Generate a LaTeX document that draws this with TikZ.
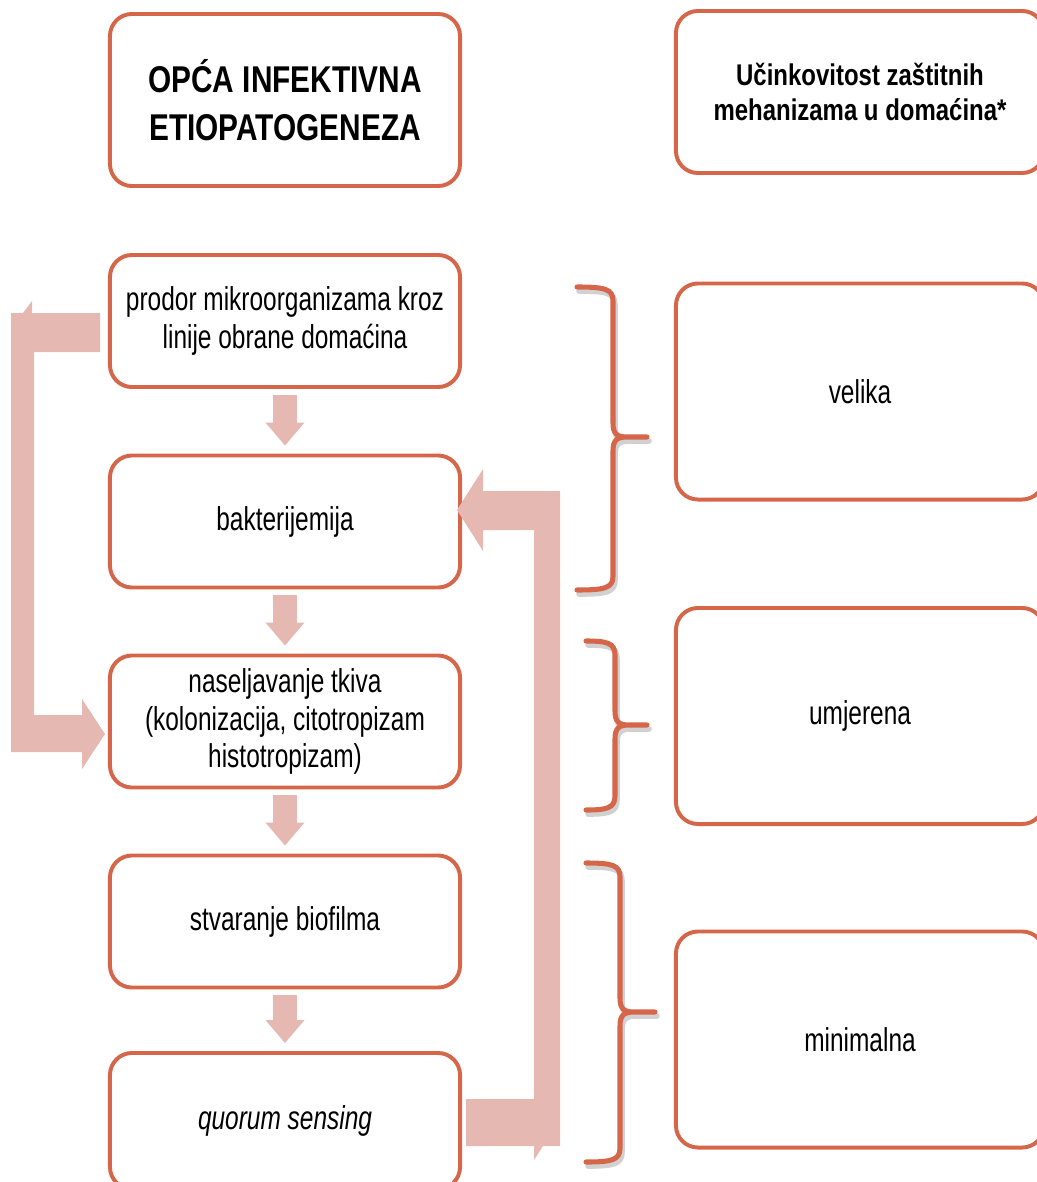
\documentclass[tikz,border=0pt]{standalone}
\usepackage{fontspec}
\setmainfont{Liberation Sans}[FakeStretch=0.74]
\newfontfamily\headfont{Liberation Sans}[FakeStretch=0.8]
\usetikzlibrary{arrows.meta}
\definecolor{boxorange}{RGB}{214,102,74}
\definecolor{arrowpink}{RGB}{229,184,177}

\begin{document}
\begin{tikzpicture}[x=0.025cm, y=-0.025cm,
    box/.style={draw=boxorange, line width=2.8pt, rounded corners=0.55cm, fill=white, align=center,
        minimum width=8.75cm, minimum height=3.3cm, font=\fontsize{23.5}{26.5}\selectfont},
    rbox/.style={box, minimum width=9.2cm, minimum height=5.4cm},
    flow/.style={draw=arrowpink, line width=0.6cm, -{Triangle[width=0.975cm, length=0.575cm, line width=0pt]},
        shorten <=0.15cm, shorten >=0.2cm},
    backarrow/.style={fill=arrowpink},
    curly/.style={draw=boxorange, line width=3.6pt, line cap=round, line join=round},
    curlyshadow/.style={draw=black!40, opacity=0.45, line width=4pt, line cap=round, line join=round}]
    \useasboundingbox (0,0) rectangle (1037,1182);

    \node [box, minimum height=4.3cm, font=\headfont\fontsize{26.5}{34}\selectfont\bfseries] (head) at (285,100) {OPĆA INFEKTIVNA\\ETIOPATOGENEZA};
    \node [box] (b1) at (285,321) {prodor mikroorganizama kroz\\linije obrane domaćina};
    \node [box] (b2) at (285,521.5) {bakterijemija};
    \node [box] (b3) at (285,721.5) {naseljavanje tkiva\\(kolonizacija, citotropizam\\histotropizam)};
    \node [box] (b4) at (285,921.5) {stvaranje biofilma};
    \node [box, minimum height=3.4cm] (b5) at (285,1121) {\itshape quorum sensing};

    \node [box, minimum width=9.2cm, minimum height=4.05cm, font=\headfont\fontsize{21.3}{25}\selectfont\bfseries] (rhead) at (860,92) {Učinkovitost zaštitnih\\mehanizama u domaćina*};
    \node [rbox] (high) at (860,391.5) {velika};
    \node [rbox] (mid) at (860,716) {umjerena};
    \node [rbox] (low) at (860,1039.5) {minimalna};

    \draw [flow] (b1) -- (b2);
    \draw [flow] (b2) -- (b3);
    \draw [flow] (b3) -- (b4);
    \draw [flow] (b4) -- (b5);

    \fill [backarrow] (100,313) -- (32,313) -- (32,301) -- (23,313) -- (11,313) -- (11,752) -- (82,752) -- (82,769)
        -- (105,734) -- (82,699) -- (82,715) -- (34,715) -- (34,352) -- (100,352) -- cycle;
    \fill [backarrow] (466,1099) -- (534,1099) -- (534,530) -- (483,530) -- (483,551) -- (457,510) -- (483,469)
        -- (483,491) -- (560,491) -- (560,1146) -- (543,1146) -- (534,1160) -- (534,1146) -- (466,1146) -- cycle;

    \foreach \e/\s/\t/\a/\m/\b in {577/613/647/287/437/590, 586/615/647/641/725/810, 586/620/655/863/1012/1162} {
        \draw [curlyshadow, shift={(2,4)}] (\e,\a) .. controls (\s-8,\a) and (\s,\a+2) .. (\s,\a+14) -- (\s,\m-14)
            .. controls (\s,\m-3) and (\s+4,\m) .. (\s+14,\m) -- (\t,\m) -- (\s+14,\m)
            .. controls (\s+4,\m) and (\s,\m+3) .. (\s,\m+14) -- (\s,\b-14)
            .. controls (\s,\b-2) and (\s-8,\b) .. (\e,\b);
        \draw [curly] (\e,\a) .. controls (\s-8,\a) and (\s,\a+2) .. (\s,\a+14) -- (\s,\m-14)
            .. controls (\s,\m-3) and (\s+4,\m) .. (\s+14,\m) -- (\t,\m) -- (\s+14,\m)
            .. controls (\s+4,\m) and (\s,\m+3) .. (\s,\m+14) -- (\s,\b-14)
            .. controls (\s,\b-2) and (\s-8,\b) .. (\e,\b);
    }
\end{tikzpicture}
\end{document}
